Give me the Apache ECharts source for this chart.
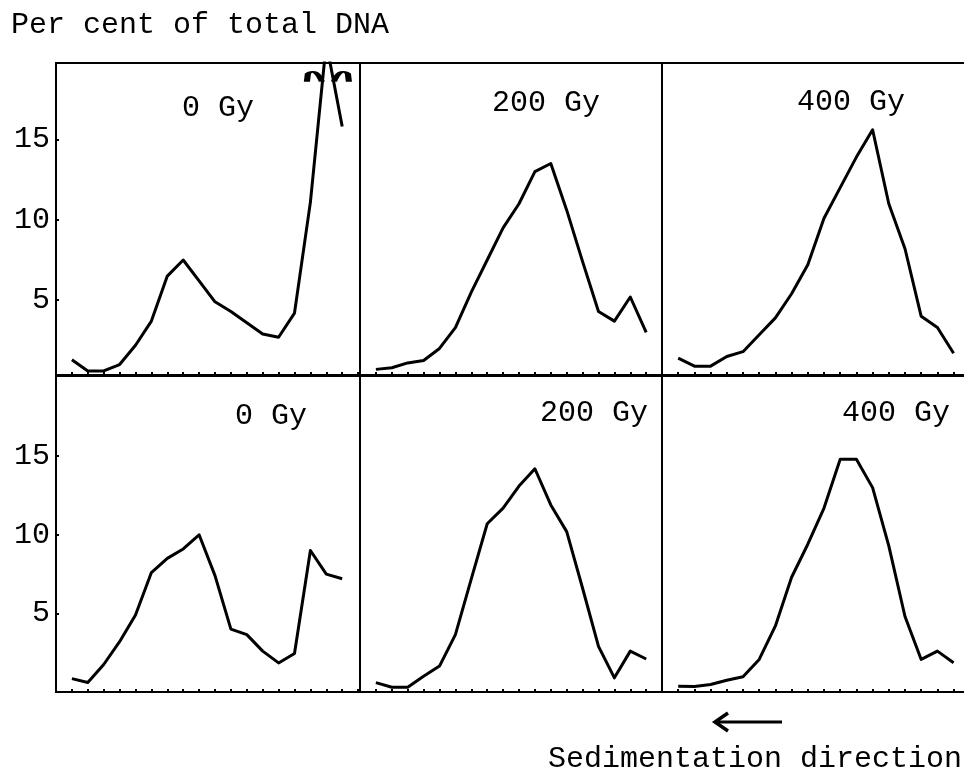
<!DOCTYPE html>
<html>
<head>
<meta charset="utf-8">
<script src="https://cdn.jsdelivr.net/npm/echarts@6/dist/echarts.min.js"></script>
<style>
  html, body { margin: 0; padding: 0; background: #fff; }
  #chart { width: 964px; height: 770px; }
</style>
</head>
<body>
<div id="chart"></div>
<script>
// fraction numbers along the gradient
const fractions = [1, 2, 3, 4, 5, 6, 7, 8, 9, 10, 11, 12, 13, 14, 15, 16, 17, 18]
const doses = ['0 Gy', '200 Gy', '400 Gy']
const yTicks = [5, 10, 15]

// top row (per cent of total DNA)
const top0 = [1.3, 0.6, 0.6, 1.0, 2.2, 3.7, 6.5, 7.5, 6.2, 4.9, 4.3, 3.6, 2.9, 2.7, 4.2, 11.1, 21, 15.8]
const top200 = [0.7, 0.8, 1.1, 1.25, 2.0, 3.3, 5.5, 7.5, 9.5, 11.0, 13.0, 13.5, 10.6, 7.4, 4.3, 3.7, 5.2, 3.0]
const top400 = [1.4, 0.9, 0.9, 1.5, 1.8, 2.85, 3.9, 5.4, 7.2, 10.1, 12.0, 13.9, 15.6, 11.0, 8.2, 4.0, 3.3, 1.7]
// bottom row
const bot0 = [0.85, 0.6, 1.75, 3.2, 4.9, 7.6, 8.5, 9.1, 10.0, 7.4, 4.0, 3.65, 2.6, 1.85, 2.45, 9.0, 7.5, 7.2]
const bot200 = [0.6, 0.3, 0.3, 1.0, 1.65, 3.65, 7.2, 10.7, 11.7, 13.1, 14.2, 11.9, 10.2, 6.6, 2.9, 0.9, 2.6, 2.1]
const bot400 = [0.37, 0.35, 0.48, 0.75, 0.97, 2.07, 4.2, 7.3, 9.4, 11.7, 14.8, 14.8, 13.0, 9.3, 4.8, 2.07, 2.6, 1.86]

const rows = [[top0, top200, top400], [bot0, bot200, bot400]]

const FONT = 'Liberation Mono'
const FS = 30
const colLeft = [56, 360, 662]
const colWidth = [304, 302, 312]  // last column runs past the page edge
const colUnit = [15.9, 15.9, 16.2]
const rowTop = [63, 376]
const rowHeight = [312, 316]
const rowY = [[0.35, 19.75], [0, 20.1]]

const grids = []
const xAxes = []
const yAxes = []
const series = []

rows.forEach((row, r) => {
  row.forEach((values, c) => {
    const idx = grids.length
    grids.push({
      left: colLeft[c],
      top: rowTop[r],
      width: colWidth[c],
      height: rowHeight[r],
      outerBoundsMode: 'none',
      containLabel: false,
      show: true,
      borderColor: '#000',
      borderWidth: 2,
      backgroundColor: 'transparent'
    })
    xAxes.push({
      type: 'value',
      gridIndex: idx,
      min: 0,
      max: colWidth[c] / colUnit[c],
      interval: 1,
      axisLine: { show: false },
      axisTick: { show: true, inside: true, length: 3, lineStyle: { color: '#000', width: 2 } },
      axisLabel: { show: false },
      splitLine: { show: false }
    })
    yAxes.push({
      type: 'value',
      gridIndex: idx,
      min: rowY[r][0],
      max: rowY[r][1],
      axisLine: { show: false },
      axisTick: { show: c === 0, inside: true, length: 3, customValues: yTicks, lineStyle: { color: '#000', width: 2 } },
      axisLabel: {
        show: c === 0,
        customValues: yTicks,
        margin: 6,
        color: '#000',
        fontFamily: FONT,
        fontSize: FS
      },
      splitLine: { show: false }
    })
    const s = {
      type: 'line',
      xAxisIndex: idx,
      yAxisIndex: idx,
      data: fractions.map((f, i) => [f, values[i]]),
      showSymbol: false,
      symbol: 'none',
      clip: true,
      lineStyle: { color: '#000', width: 3, join: 'round' },
      silent: true
    }
    if (r === 0 && c === 0) {
      // broken-scale mark where the peak runs off the panel
      s.markPoint = {
        symbol: 'path://M16,9 Q10,0 2,4 L1,9 M28,9 Q34,0 42,4 L43,9',
        symbolSize: [42, 10],
        label: { show: false },
        itemStyle: { color: 'none', borderColor: '#000', borderWidth: 3 },
        data: [{ coord: [17.1, 18.9] }],
        silent: true
      }
    }
    series.push(s)
  })
})

const labelPos = [
  [[182, 108], [492, 103], [797, 102]],
  [[235, 416], [540, 413], [842, 413]]
]
const graphics = []
labelPos.forEach(row => row.forEach((p, c) => {
  graphics.push({
    type: 'text', x: p[0], y: p[1],
    style: { text: doses[c], fontFamily: FONT, fontSize: FS, fill: '#000', verticalAlign: 'middle', align: 'left' }
  })
}))
graphics.push({
  type: 'text', x: 11, y: 25,
  style: { text: 'Per cent of total DNA', fontFamily: FONT, fontSize: FS, fill: '#000', verticalAlign: 'middle', align: 'left' }
})
graphics.push({
  type: 'text', x: 548, y: 759,
  style: { text: 'Sedimentation direction', fontFamily: FONT, fontSize: FS, fill: '#000', verticalAlign: 'middle', align: 'left' }
})
// arrow
graphics.push({
  type: 'line', shape: { x1: 716, y1: 722, x2: 782, y2: 722 },
  style: { stroke: '#000', lineWidth: 3 }
})
graphics.push({
  type: 'polyline', shape: { points: [[728, 713], [715, 722], [728, 731]] },
  style: { stroke: '#000', lineWidth: 3.5, fill: 'none' }
})

const chart = echarts.init(document.getElementById('chart'))
chart.setOption({
  animation: false,
  backgroundColor: '#fff',
  grid: grids,
  xAxis: xAxes,
  yAxis: yAxes,
  series: series,
  graphic: graphics
})
</script>
</body>
</html>
